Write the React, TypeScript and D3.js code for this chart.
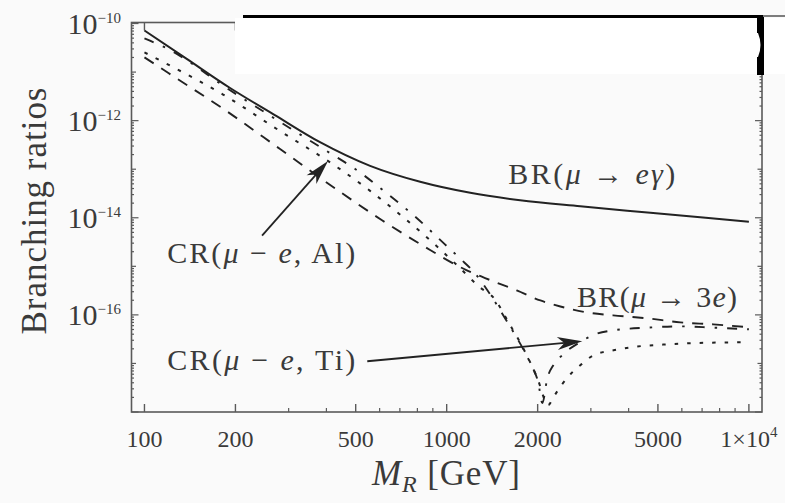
import React from 'react';
import * as d3 from 'd3';

// ---- data ----
const megMass = [100, 138, 192, 270, 381, 558, 817, 1197, 1750, 2767, 4721, 10000];
const megBR = [7.2e-11, 1.87e-11, 4.7e-12, 1.3e-12, 3.6e-13, 1.17e-13, 5.5e-14, 3.26e-14, 2.29e-14, 1.72e-14, 1.27e-14, 8.3e-15];

const mu3eMass = [100, 120, 187, 281, 444, 611, 829, 1161, 1340, 1706, 2042, 2378, 2919, 3557, 4613, 5931, 7621, 10000];
const mu3eBR = [2.01e-11, 9.57e-12, 1.57e-12, 2.6e-13, 3.41e-14, 8.89e-15, 2.73e-15, 8.38e-16, 5.74e-16, 3.18e-16, 1.98e-16, 1.49e-16, 1.12e-16, 9.77e-17, 8.48e-17, 7.02e-17, 6.38e-17, 5.55e-17];

const tiMass = [100, 117, 192, 303, 411, 498, 631, 787, 981, 1109, 1243, 1393, 1582, 1707, 1891, 2011, 2072, 2153, 2254, 2378, 2768, 3141, 3556, 4603, 5931, 7621, 10000];
const tiCR = [4.92e-11, 3.22e-11, 4.23e-12, 7.01e-13, 2.15e-13, 1.01e-13, 3.26e-14, 1.05e-14, 2.93e-15, 1.44e-15, 7.1e-16, 2.64e-16, 7.36e-17, 3.37e-17, 1.01e-17, 3.94e-18, 1.53e-18, 4.98e-18, 9.2e-18, 1.36e-17, 2.77e-17, 4.11e-17, 4.81e-17, 5.46e-17, 5.81e-17, 5.46e-17, 5.05e-17];

const alMass = [100, 123, 182, 281, 428, 558, 729, 938, 1084, 1291, 1426, 1623, 1820, 1995, 2168, 2260, 2411, 2582, 2812, 3064, 3565, 4159, 5224, 6730, 10000];
const alCR = [2.54e-11, 1.31e-11, 3.45e-12, 6.1e-13, 1.17e-13, 3.58e-14, 9.53e-15, 2.43e-15, 1.04e-15, 3.66e-16, 2.29e-16, 6.1e-17, 1.7e-17, 4.98e-18, 1.39e-18, 2.06e-18, 3.75e-18, 6.22e-18, 9.98e-18, 1.48e-17, 1.87e-17, 2.19e-17, 2.45e-17, 2.64e-17, 2.73e-17];

const xMajorTicks = [100, 200, 500, 1000, 2000, 5000, 10000];
const xMajorLabels = ['100', '200', '500', '1000', '2000', '5000', '1×10'];
const xMinorTicks = [300, 400, 600, 700, 800, 900, 3000, 4000, 6000, 7000, 8000, 9000];
const yLabelExponents = [-10, -12, -14, -16];
const yDecades = [-18, -17, -16, -15, -14, -13, -12, -11, -10];

// annotation anchors in data coordinates [mass, ratio]
const arrowAl = [[245, 4.3e-15], [405, 1.48e-13]];
const arrowTi = [[546, 1.11e-17], [2810, 2.86e-17]];
const labelMeg = [1600, 5.0e-14];
const labelAl = [119, 1.19e-15];
const label3e = [2700, 1.43e-16];
const labelTi = [119, 7.3e-18];

export default function App() {
  const W = 785, H = 503;
  const L = 131.5, R = 762, T = 22.5, B = 412;
  const x = d3.scaleLog().domain([90.6, 11050]).range([L, R]);
  const y = d3.scaleLog().domain([1e-18, 1.05e-10]).range([B, T]);

  const line = d3.line<[number, number]>()
    .x(d => x(d[0]))
    .y(d => y(d[1]))
    .curve(d3.curveMonotoneX);
  const zip = (a: number[], b: number[]) => a.map((v, i) => [v, b[i]] as [number, number]);

  const frame = '#5a5a5a';
  const ink = '#222';
  const txt = '#3a3a3a';
  const font = "'Liberation Serif', 'DejaVu Serif', serif";

  const yTicks: { v: number; len: number }[] = [];
  yDecades.forEach(e => {
    yTicks.push({ v: Math.pow(10, e), len: e % 2 === 0 ? 7 : 4.5 });
    if (e < -10) for (let k = 2; k <= 9; k++) yTicks.push({ v: k * Math.pow(10, e), len: 2.5 });
  });

  const arrow = (pts: number[][], key: string) => {
    const x0 = x(pts[0][0]), y0 = y(pts[0][1]);
    const x1 = x(pts[1][0]), y1 = y(pts[1][1]);
    const ang = Math.atan2(y1 - y0, x1 - x0);
    const hl = 25, hw = 6.5;
    const c = Math.cos(ang), s = Math.sin(ang);
    const P = (u: number, v: number) => `${x1 + u * c - v * s},${y1 + u * s + v * c}`;
    return (
      <g key={key}>
        <line x1={x0} y1={y0} x2={x1 - hl * 0.7 * c} y2={y1 - hl * 0.7 * s} stroke={ink} strokeWidth={1.8} />
        <path d={`M${P(0, 0)} L${P(-hl, -hw)} L${P(-hl * 0.72, 0)} L${P(-hl, hw)} Z`} fill={ink} />
      </g>
    );
  };

  return (
    <svg width={W} height={H} style={{ position: 'absolute', left: 0, top: 0 }} xmlns="http://www.w3.org/2000/svg">
      <rect x={0} y={0} width={W} height={H} fill="#fafafa" />
      <defs>
        <clipPath id="plotclip">
          <rect x={L} y={T} width={R - L} height={B - T} />
        </clipPath>
      </defs>

      {/* frame */}
      <rect x={L} y={T} width={R - L} height={B - T} fill="none" stroke={frame} strokeWidth={1.6} />

      {/* x ticks bottom + top */}
      {xMajorTicks.map(v => (
        <g key={'xM' + v}>
          <line x1={x(v)} x2={x(v)} y1={B} y2={B - 8} stroke={frame} strokeWidth={1.4} />
          <line x1={x(v)} x2={x(v)} y1={T} y2={T + 8} stroke={frame} strokeWidth={1.4} />
        </g>
      ))}
      {xMinorTicks.map(v => (
        <g key={'xm' + v}>
          <line x1={x(v)} x2={x(v)} y1={B} y2={B - 4} stroke={frame} strokeWidth={1.2} />
          <line x1={x(v)} x2={x(v)} y1={T} y2={T + 4} stroke={frame} strokeWidth={1.2} />
        </g>
      ))}
      {/* y ticks left + right */}
      {yTicks.map((t, i) => (
        <g key={'yt' + i}>
          <line x1={L} x2={L + t.len} y1={y(t.v)} y2={y(t.v)} stroke={frame} strokeWidth={1.2} />
          <line x1={R} x2={R - t.len} y1={y(t.v)} y2={y(t.v)} stroke={frame} strokeWidth={1.2} />
        </g>
      ))}

      {/* x tick labels */}
      {xMajorTicks.map((v, i) => (
        <text key={'xl' + v} x={x(v)} y={447} textAnchor="middle" fontFamily={font} fontSize={24} fill={txt}>
          {xMajorLabels[i]}
          {v === 10000 ? <tspan dy={-10} fontSize={15}>4</tspan> : null}
        </text>
      ))}
      {/* y tick labels */}
      {yLabelExponents.map(e => (
        <text key={'yl' + e} x={121} y={y(Math.pow(10, e)) + 10} textAnchor="end" fontFamily={font} fontSize={30} fill={txt}>
          10<tspan dy={-11} fontSize={15}>{'−' + Math.abs(e)}</tspan>
        </text>
      ))}

      {/* axis titles */}
      <text x={372} y={485} fontFamily={font} fontSize={35} fill={txt} textLength={148} lengthAdjust="spacing">
        <tspan fontStyle="italic">M</tspan><tspan fontStyle="italic" fontSize={24} dy={7}>R</tspan><tspan dy={-7}> [GeV]</tspan>
      </text>
      <text transform="translate(46,211) rotate(-90)" textAnchor="middle" fontFamily={font} fontSize={35} fill={txt} textLength={247} lengthAdjust="spacing">
        Branching ratios
      </text>

      {/* curves */}
      <g clipPath="url(#plotclip)" fill="none" stroke={ink}>
        <path d={line(zip(megMass, megBR)) || ''} strokeWidth={2} />
        <path d={line(zip(mu3eMass, mu3eBR)) || ''} strokeWidth={1.9} strokeDasharray="11,9" />
        <path d={line(zip(tiMass, tiCR)) || ''} strokeWidth={1.9} strokeDasharray="10,10,2.5,10" />
        <path d={line(zip(alMass, alCR)) || ''} strokeWidth={2} strokeDasharray="3.5,9" />
      </g>

      {/* annotations */}
      {arrow(arrowAl, 'aAl')}
      {arrow(arrowTi, 'aTi')}
      <text x={x(labelMeg[0])} y={y(labelMeg[1])} fontFamily={font} fontSize={30} fill={txt} textLength={167} lengthAdjust="spacing">
        BR(<tspan fontStyle="italic">μ</tspan> → <tspan fontStyle="italic">eγ</tspan>)
      </text>
      <text x={x(labelAl[0])} y={y(labelAl[1])} fontFamily={font} fontSize={30} fill={txt} textLength={188} lengthAdjust="spacing">
        CR(<tspan fontStyle="italic">μ</tspan> − <tspan fontStyle="italic">e</tspan>, Al)
      </text>
      <text x={x(label3e[0])} y={y(label3e[1])} fontFamily={font} fontSize={30} fill={txt} textLength={160} lengthAdjust="spacing">
        BR(<tspan fontStyle="italic">μ</tspan> → 3<tspan fontStyle="italic">e</tspan>)
      </text>
      <text x={x(labelTi[0])} y={y(labelTi[1])} fontFamily={font} fontSize={30} fill={txt} textLength={188} lengthAdjust="spacing">
        CR(<tspan fontStyle="italic">μ</tspan> − <tspan fontStyle="italic">e</tspan>, Ti)
      </text>

      {/* overlay artefacts at the top of the picture */}
      <rect x={235} y={18} width={550} height={56} fill="#ffffff" />
      <rect x={243} y={15} width={520} height={3} fill="#000" />
      <rect x={763} y={15.5} width={22} height={1} fill="#000" />
      <rect x={757} y={17} width={7} height={58} fill="#000" />
      <path d="M757,33 L758,33 Q763,45 758,57 L757,57 Z" fill="#fff" />
    </svg>
  );
}
